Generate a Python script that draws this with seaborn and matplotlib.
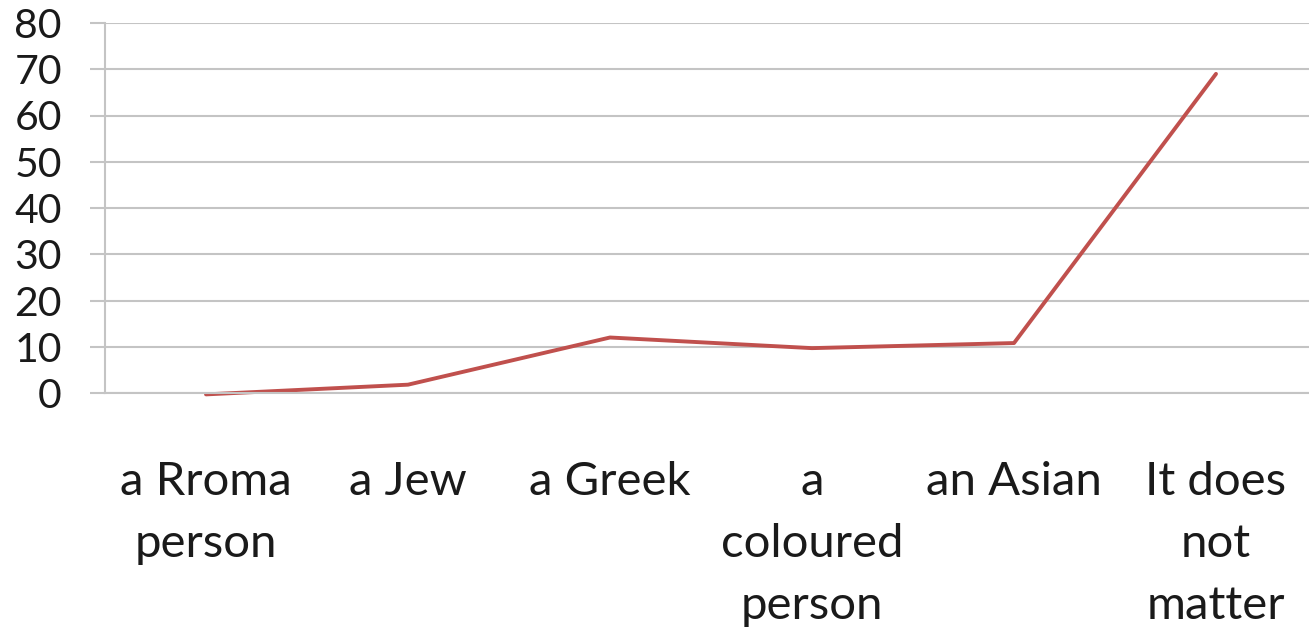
import matplotlib
matplotlib.use("Agg")
import matplotlib.pyplot as plt
import seaborn as sns
import pandas as pd

# Data
categories = ["a Rroma\nperson", "a Jew", "a Greek", "a\ncoloured\nperson",
              "an Asian", "It does\nnot\nmatter"]
values = [-0.3, 1.8, 12, 9.7, 10.8, 69]
y_ticks = [0, 10, 20, 30, 40, 50, 60, 70, 80]

sns.set_theme(style="white")
plt.rcParams['font.family'] = ['Lato', 'DejaVu Sans']

df = pd.DataFrame({"pos": range(len(categories)), "value": values})

fig = plt.figure(figsize=(13.09, 6.32), dpi=100)
ax = fig.add_axes([105 / 1309, 239 / 632, 1212 / 1309, 370 / 632])

grid_color = "#c4c4c4"

sns.lineplot(data=df, x="pos", y="value", color="#c0504d", linewidth=2.8, ax=ax,
             clip_on=False)

ax.set_xlim(-0.5, len(categories) - 0.5)
ax.set_ylim(0, 80)
ax.set_yticks(y_ticks)
ax.set_yticklabels([str(t) for t in y_ticks], fontsize=29.5, color="#1a1a1a")
ax.yaxis.grid(True, color=grid_color, linewidth=1.5)
ax.set_axisbelow(True)

# boundaries get tick marks, centers get labels
ax.set_xticks([i - 0.5 for i in range(len(categories) + 1)])
ax.set_xticklabels([])
ax.set_xticks(range(len(categories)), minor=True)
ax.set_xticklabels(categories, minor=True, fontsize=34, color="#1a1a1a",
                   linespacing=1.59, va="top")
ax.tick_params(axis="x", which="major", length=14, width=1.2, color=grid_color,
               direction="out")
ax.tick_params(axis="x", which="minor", length=0, pad=49)
ax.tick_params(axis="y", length=11, width=1.5, color=grid_color, pad=20,
               direction="out", left=True)

for side in ["top", "right"]:
    ax.spines[side].set_visible(False)
for side in ["left", "bottom"]:
    ax.spines[side].set_color(grid_color)
    ax.spines[side].set_linewidth(1.5)

ax.set_xlabel("")
ax.set_ylabel("")

fig.savefig("out.png", dpi=100)
